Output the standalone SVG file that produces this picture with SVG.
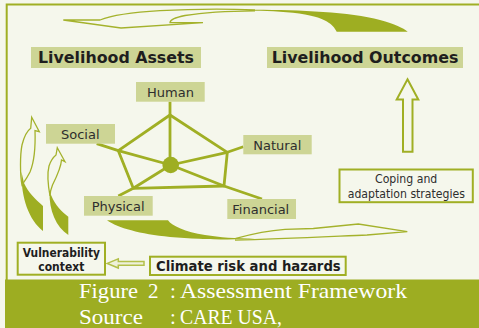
<svg xmlns="http://www.w3.org/2000/svg" width="479" height="328" viewBox="0 0 479 328">
  <style>
    .tag { fill: #CDD595; }
    .head { font-family: "DejaVu Sans", Verdana, sans-serif; font-weight: bold; font-size: 15.5px; fill: #1e1e1e; }
    .lbl { font-family: "DejaVu Sans", Verdana, sans-serif; font-size: 13px; fill: #2e2e2e; }
    .boxed { fill: #F5F7EC; stroke: #A0AF24; stroke-width: 2; }
    .btxt { font-family: "DejaVu Sans", Verdana, sans-serif; font-weight: bold; font-size: 13.5px; fill: #1e1e1e; }
    .vtxt { font-family: "DejaVu Sans", Verdana, sans-serif; font-weight: bold; font-size: 12.5px; fill: #1e1e1e; }
    .ctxt { font-family: "DejaVu Sans", Verdana, sans-serif; font-size: 12.8px; fill: #2e2e2e; }
    .web { stroke: #A0AF24; stroke-width: 2.8; fill: none; stroke-linejoin: round; }
    .thin { stroke: #A4B22C; stroke-width: 1.3; fill: none; stroke-linejoin: miter; }
    .solid { fill: #9EAE22; }
    .cap { font-family: "Liberation Serif", "Times New Roman", serif; font-size: 21px; fill: #FFFFFF; }
  </style>

  <!-- page background and frame -->
  <rect x="0" y="0" width="479" height="328" fill="#F5F7EC"/>
  <path d="M6.7,280 L6.7,4.5 L479,4.5" fill="none" stroke="#A0AF24" stroke-width="2"/>

  <!-- caption band -->
  <g id="caption">
    <rect x="5" y="279.5" width="474" height="48.5" fill="#9DAD22"/>
    <text class="cap" x="79" y="298.3" textLength="59" lengthAdjust="spacingAndGlyphs">Figure</text>
    <text class="cap" x="148" y="298.3">2</text>
    <text class="cap" x="170" y="298.3">:</text>
    <text class="cap" x="180" y="298.3" textLength="227" lengthAdjust="spacingAndGlyphs">Assessment Framework</text>
    <text class="cap" x="79" y="323.5" textLength="64" lengthAdjust="spacingAndGlyphs">Source</text>
    <text class="cap" x="170" y="323.5">:</text>
    <text class="cap" x="180" y="323.5" textLength="102" lengthAdjust="spacingAndGlyphs">CARE USA,</text>
  </g>

  <!-- connectors -->
  <g id="connectors">
    <!-- asset pentagon with spokes -->
    <path class="web" d="M170,115 L227.3,152.3 L224,186 L133.3,188.3 L118.3,150.7 Z"/>
    <path class="web" d="M170,101.7 L170,165 M118.3,150.7 L170.7,165 L227.3,152.3 M133.3,188.3 L170.7,165 L224,186"/>
    <path class="web" d="M118.3,150.7 L96.7,143.7 M227.3,152.3 L243.3,146.7 M133.3,188.3 L118.3,196 M224,186 L262,199"/>
    <circle cx="170.7" cy="165" r="8.3" fill="#9EAE22"/>

    <!-- curved feedback arrow along the top -->
    <path class="solid" d="M255,9.8 C300,10 350,12 380,20 C395,24 403,28 407.7,31.7 L336.7,31.7 C333,24 325,18 305,14.5 C290,12 270,11 255,10.8 Z"/>
    <path class="thin" d="M255,10.8 C225,11 200,13 185,15.5 C175,17.5 170,20 170,22.7 L203,22.7 L121,28 L63.3,20 L100,20 C110,16 130,12.5 160,10.7 C190,9 225,8.8 255,9.8"/>

    <!-- curved arrow along the bottom -->
    <path class="solid" d="M107,220.3 L168,220.3 C172,226 185,232 205,235 C220,237.5 235,238.5 255,238.6 C235,240.2 200,239.6 170,237 C140,234 118,228 107,220.3 Z"/>
    <path class="thin" d="M235,240.2 C280,239.2 330,236.6 367,235 L407.3,231.7 L358.3,224 L313.3,228.5 L285,229.3 C262,231 248,235 235,238.6"/>

    <!-- two rising arrows on the left -->
    <path class="solid" d="M21.5,172 C21,198 29,220 43,231 L43,206 C35,199 28,192 24,183 Z"/>
    <path class="thin" d="M31.7,117.3 L39.3,131.7 L35,130.5 C35.5,145 35,160 30,172 C27,178 24,182 22,185 C20,175 20,155 22,145 C24,137 27,131 30.7,128.3 Z"/>
    <path class="solid" d="M49.5,192 C49,210 56,227 68.3,235 L68.3,216.7 C62,212 55,205 51.5,196 Z"/>
    <path class="thin" d="M57.3,147.7 L65,161.7 L61.5,160 C61,168 57,176 52.5,185 C50.5,190 50,193 50,196 C48,185 47.5,172 49,166 C51,160 53.5,157 56,155 Z"/>

    <!-- outcome arrow from coping strategies -->
    <path d="M407.5,79.3 L418.3,99.5 L412.5,99.5 L412.5,151.7 L403,151.7 L403,99.5 L396.7,99.5 Z" fill="#F5F7EC" stroke="#A0AF24" stroke-width="2" stroke-linejoin="miter"/>

    <!-- hazards feed vulnerability -->
    <path d="M107.3,263.4 L118.3,258.8 L118.3,261.6 L144,261.6 L144,265.2 L118.3,265.2 L118.3,268 Z" fill="#EEF1DA" stroke="#B3C04A" stroke-width="1.5" stroke-linejoin="miter"/>
  </g>

  <!-- headings -->
  <g id="assets">
    <rect class="tag" x="31" y="47" width="170" height="21"/>
    <text class="head" x="38" y="63.3" textLength="156" lengthAdjust="spacingAndGlyphs">Livelihood Assets</text>
  </g>
  <g id="outcomes">
    <rect class="tag" x="267" y="47" width="196" height="21"/>
    <text class="head" x="271.7" y="63.3" textLength="186.7" lengthAdjust="spacingAndGlyphs">Livelihood Outcomes</text>
  </g>

  <!-- asset labels -->
  <g id="human">
    <rect class="tag" x="136" y="82" width="68.7" height="19.7"/>
    <text class="lbl" x="147" y="96.7">Human</text>
  </g>
  <g id="social">
    <rect class="tag" x="46" y="124" width="69" height="19.7"/>
    <text class="lbl" x="61" y="139">Social</text>
  </g>
  <g id="natural">
    <rect class="tag" x="243.3" y="135" width="68.4" height="19.3"/>
    <text class="lbl" x="253.3" y="150">Natural</text>
  </g>
  <g id="physical">
    <rect class="tag" x="84" y="196" width="68.7" height="19.7"/>
    <text class="lbl" x="91.7" y="211">Physical</text>
  </g>
  <g id="financial">
    <rect class="tag" x="227.3" y="199" width="68.7" height="20"/>
    <text class="lbl" x="232.3" y="214">Financial</text>
  </g>

  <!-- strategy and context boxes -->
  <g id="coping">
    <rect class="boxed" x="339.5" y="169.5" width="133.3" height="32.7" stroke-width="2.3"/>
    <text class="ctxt" x="375" y="183.3" textLength="62.3" lengthAdjust="spacingAndGlyphs">Coping and</text>
    <text class="ctxt" x="347.7" y="197.6" textLength="117.3" lengthAdjust="spacingAndGlyphs">adaptation strategies</text>
  </g>
  <g id="vulnerability">
    <rect class="boxed" x="17.7" y="242.7" width="87.3" height="32"/>
    <text class="vtxt" x="22.7" y="257.3" textLength="77.3" lengthAdjust="spacingAndGlyphs">Vulnerability</text>
    <text class="vtxt" x="38.3" y="270.9" textLength="46" lengthAdjust="spacingAndGlyphs">context</text>
  </g>
  <g id="climate">
    <rect class="boxed" x="150" y="256.7" width="195.7" height="18.3"/>
    <text class="btxt" x="156" y="270.7" textLength="184.7" lengthAdjust="spacingAndGlyphs">Climate risk and hazards</text>
  </g>
</svg>
